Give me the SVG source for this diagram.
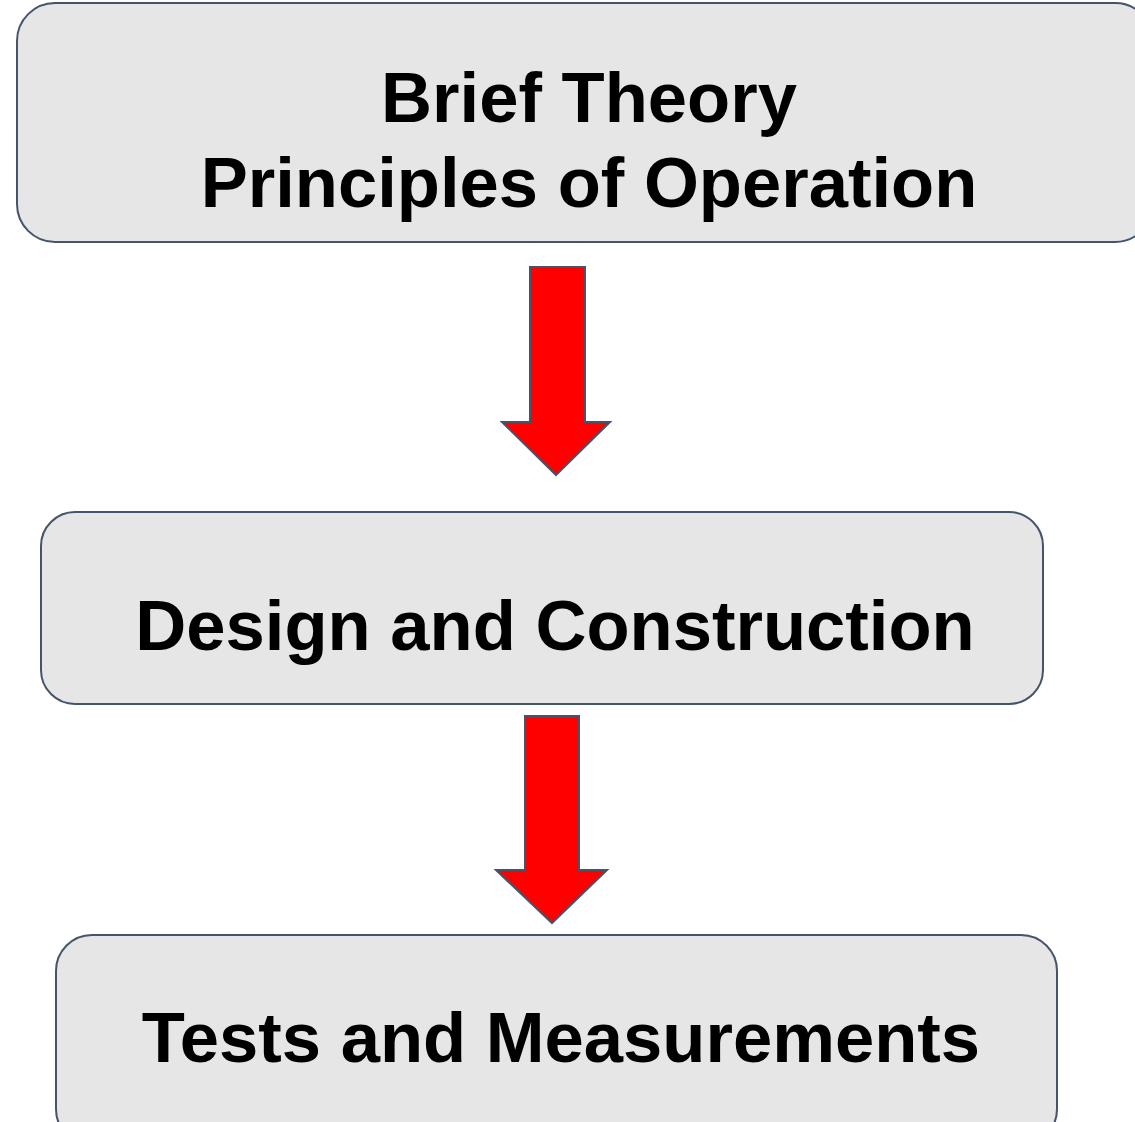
<svg xmlns="http://www.w3.org/2000/svg" width="1135" height="1122" viewBox="0 0 1135 1122">
  <style>
    .box { fill: #e6e6e6; stroke: #44546a; stroke-width: 2; }
    .arrow { fill: #ff0000; stroke: #44546a; stroke-width: 2; stroke-linejoin: miter; }
    .label { font-family: "Liberation Sans", Arial, sans-serif; font-weight: bold; font-size: 70.6px; fill: #000000; text-anchor: middle; }
  </style>
  <rect width="1135" height="1122" fill="#ffffff"/>

  <g id="node-theory">
    <rect class="box" x="17" y="3" width="1136" height="239" rx="38" ry="38"/>
    <text class="label" x="589" y="122">Brief Theory</text>
    <text class="label" x="589" y="207">Principles of Operation</text>
  </g>

  <g id="node-design">
    <rect class="box" x="41" y="512" width="1002" height="192" rx="34" ry="34"/>
    <text class="label" x="555" y="650">Design and Construction</text>
  </g>

  <g id="node-tests">
    <rect class="box" x="56" y="935" width="1001" height="210" rx="36" ry="36"/>
    <text class="label" x="561" y="1062">Tests and Measurements</text>
  </g>

  <g id="connectors">
    <path class="arrow" d="M530 267 H585 V422 H610 L556 475 L502 422 H530 Z"/>
    <path class="arrow" d="M525 716 H579 V870 H607 L552 923 L496 870 H525 Z"/>
  </g>
</svg>
